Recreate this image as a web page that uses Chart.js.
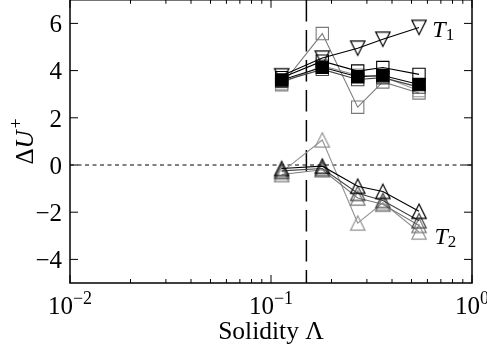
<!DOCTYPE html>
<html><head><meta charset="utf-8">
<script src="https://cdn.jsdelivr.net/npm/chart.js@4"></script>
<style>
html,body{margin:0;padding:0;background:#fff;overflow:hidden;width:487px;height:354px;}
#wrap{position:absolute;left:0;top:-10px;width:487px;height:364px;}
</style></head><body>
<div id="wrap"><canvas id="c" width="487" height="364"></canvas></div>
<script>
// ---- data ----
const LAMBDA = [0.113, 0.18, 0.27, 0.36, 0.545];
// T1 group (upper)
const T1_TRI   = [3.78, 4.53, 4.95, 5.33, 5.83];
const T1_MEAN  = [3.60, 4.14, 3.74, 3.79, 3.41];
const T1_SQ_A  = [3.70, 4.40, 3.98, 4.13, 3.84];
const T1_SQ_B  = [3.55, 4.05, 3.62, 3.70, 3.30];
const T1_SQ_C  = [3.40, 5.57, 2.45, 3.52, 3.05];
const T1_SQ_D  = [3.47, 4.20, 3.80, 3.75, 3.15];
// T2 group (lower)
const T2_TRI_A = [-0.15, -0.05, -0.90, -1.12, -1.96];
const T2_TRI_B = [-0.25, -0.15, -1.20, -1.50, -2.36];
const T2_TRI_C = [-0.30, 1.06, -2.46, -1.60, -2.84];
const T2_TRI_D = [-0.40, -0.20, -1.40, -1.66, -2.56];
const LAMBDA_CRIT = 0.15;
const X_MIN = 0.01, X_MAX = 1, Y_MIN = -5, Y_MAX = 7;
const Y_TICKS = [-4, -2, 0, 2, 4, 6];
const Y_TICK_LABELS = ['\u22124', '\u22122', '0', '2', '4', '6'];
const X_TICKS = [0.01, 0.1, 1];
const X_TICK_BASE = ['10', '10', '10'];
const X_TICK_EXP = ['\u22122', '\u22121', '0'];
const X_TITLE = ['Solidity ', '\u039B'];
const LABELS = [
  {t: 'T', s: '1', x: 0.635, y: 5.43},
  {t: 'T', s: '2', x: 0.65, y: -3.33}
];

const SERIF = '"Liberation Serif", "Times New Roman", serif';
const K = '#000000', DK = '#444444', MD = '#7a7a7a', LT = '#959595';

function triImg(color, down) {
  const c = document.createElement('canvas');
  c.width = 20; c.height = 20;
  const g = c.getContext('2d');
  const s = 7.2;
  g.strokeStyle = color; g.lineWidth = 1.2; g.lineJoin = 'miter';
  g.beginPath();
  if (down) { g.moveTo(10 - s, 10 - s); g.lineTo(10 + s, 10 - s); g.lineTo(10, 10 + s); }
  else { g.moveTo(10, 10 - s); g.lineTo(10 + s, 10 + s); g.lineTo(10 - s, 10 + s); }
  g.closePath(); g.stroke();
  return c;
}
const pts = arr => LAMBDA.map((l, i) => ({x: l, y: arr[i]}));

function series(arr, color, style, order, fill) {
  return {
    data: pts(arr), borderColor: color, borderWidth: 1.1,
    pointStyle: style, pointRadius: 8.7,
    pointBorderColor: color, pointBorderWidth: 1.1,
    pointBackgroundColor: fill || 'rgba(0,0,0,0)',
    order: order, tension: 0
  };
}

const datasets = [
  series(T1_TRI, K, triImg(K, true), 1),
  series(T1_MEAN, K, 'rect', 2, K),
  series(T1_SQ_A, K, 'rect', 3),
  series(T1_SQ_B, DK, 'rect', 4),
  series(T1_SQ_D, LT, 'rect', 5),
  series(T1_SQ_C, MD, 'rect', 6),
  series(T2_TRI_A, K, triImg(K, false), 7),
  series(T2_TRI_B, DK, triImg(DK, false), 8),
  series(T2_TRI_D, MD, triImg(MD, false), 9),
  series(T2_TRI_C, LT, triImg(LT, false), 10),
  {data: [{x: LAMBDA_CRIT, y: Y_MIN}, {x: LAMBDA_CRIT, y: Y_MAX}], borderColor: K, borderWidth: 1.5,
   borderDash: [21.5, 8.5], borderDashOffset: 8.5, pointRadius: 0, order: 20},
  {data: [{x: X_MIN, y: 0}, {x: X_MAX, y: 0}], borderColor: K, borderWidth: 1,
   borderDash: [4, 3.5], pointRadius: 0, order: 21}
];

function supText(ctx, base, sup, x, y, bf, sf, rise, align) {
  ctx.font = bf; const w1 = ctx.measureText(base).width;
  ctx.font = sf; const w2 = ctx.measureText(sup).width;
  let x0 = x;
  if (align === 'center') x0 = x - (w1 + w2) / 2;
  ctx.textAlign = 'left'; ctx.textBaseline = 'alphabetic';
  ctx.font = bf; ctx.fillText(base, x0, y);
  ctx.font = sf; ctx.fillText(sup, x0 + w1, y - rise);
}

const axesPlugin = {
  id: 'axesPlugin',
  afterDraw(chart) {
    const {ctx, chartArea: a, scales: {x, y}} = chart;
    ctx.save();
    ctx.fillStyle = '#000'; ctx.strokeStyle = '#000';
    // frame
    ctx.lineWidth = 1.5;
    ctx.strokeRect(a.left, a.top, a.right - a.left, a.bottom - a.top);
    ctx.lineWidth = 1;
    const seg = (x1, y1, x2, y2) => { ctx.beginPath(); ctx.moveTo(x1, y1); ctx.lineTo(x2, y2); ctx.stroke(); };
    // y ticks
    Y_TICKS.forEach((v, i) => {
      const py = y.getPixelForValue(v);
      seg(a.left, py, a.left + 8, py);
      seg(a.right, py, a.right - 8, py);
      ctx.font = '25px ' + SERIF; ctx.textAlign = 'right'; ctx.textBaseline = 'alphabetic';
      ctx.fillText(Y_TICK_LABELS[i], a.left - 8, py + 8.8);
    });
    // x ticks major
    X_TICKS.forEach((v, i) => {
      const px = x.getPixelForValue(v);
      seg(px, a.bottom, px, a.bottom - 8);
      seg(px, a.top, px, a.top + 8);
      supText(ctx, X_TICK_BASE[i], X_TICK_EXP[i], px, a.bottom + 31,
        '25px ' + SERIF, '18px ' + SERIF, 10.5, 'center');
    });
    // x ticks minor
    for (let d = X_MIN; d < X_MAX; d *= 10) {
      for (let m = 2; m <= 9; m++) {
        const px = x.getPixelForValue(d * m);
        seg(px, a.bottom, px, a.bottom - 4);
        seg(px, a.top, px, a.top + 4);
      }
    }
    // x title
    ctx.font = '25.5px ' + SERIF;
    ctx.textAlign = 'center'; ctx.textBaseline = 'alphabetic';
    ctx.fillText(X_TITLE.join(''), (a.left + a.right) / 2, a.bottom + 55.5);
    // y title: ΔU+
    ctx.save();
    const cy = (a.top + a.bottom) / 2;
    ctx.translate(a.left - 37, cy);
    ctx.rotate(-Math.PI / 2);
    ctx.font = '25px ' + SERIF; const wD = ctx.measureText('\u0394').width;
    ctx.font = 'italic 25px ' + SERIF; const wU = ctx.measureText('U').width;
    ctx.font = '18px ' + SERIF; const wP = ctx.measureText('+').width;
    let sx = -(wD + wU + 2 + wP) / 2;
    ctx.textAlign = 'left';
    ctx.font = '25px ' + SERIF; ctx.fillText('\u0394', sx, 0); sx += wD;
    ctx.font = 'italic 25px ' + SERIF; ctx.fillText('U', sx, 0); sx += wU + 2;
    ctx.font = '18px ' + SERIF; ctx.fillText('+', sx, -11);
    ctx.restore();
    // T labels
    LABELS.forEach(L => {
      const px = x.getPixelForValue(L.x), py = y.getPixelForValue(L.y);
      ctx.textAlign = 'left'; ctx.textBaseline = 'alphabetic';
      ctx.font = 'italic 24px ' + SERIF; const wt = ctx.measureText(L.t).width;
      ctx.fillText(L.t, px, py);
      ctx.font = '17px ' + SERIF; ctx.fillText(L.s, px + wt, py + 3);
    });
    ctx.restore();
  }
};

new Chart(document.getElementById('c'), {
  type: 'line',
  data: {datasets},
  options: {
    responsive: false, animation: false, devicePixelRatio: 1,
    events: [],
    layout: {padding: {left: 70, right: 15, top: 8, bottom: 71}},
    plugins: {legend: {display: false}, tooltip: {enabled: false}},
    scales: {
      x: {type: 'logarithmic', min: X_MIN, max: X_MAX, display: false},
      y: {type: 'linear', min: Y_MIN, max: Y_MAX, display: false}
    }
  },
  plugins: [axesPlugin]
});
</script>
</body></html>
